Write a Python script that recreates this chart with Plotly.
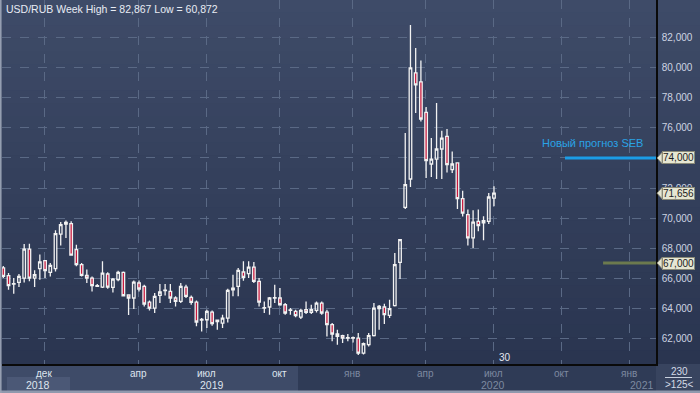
import plotly.graph_objects as go

# ---- weekly USD/RUB candles ----
opens = [66.67, 66.16, 65.60, 65.71, 66.00, 67.93, 66.00, 66.62, 67.16, 66.38,
         66.62, 68.93, 69.60, 69.62, 67.89, 66.89, 66.18, 66.00, 65.44, 65.40,
         66.27, 65.38, 65.89, 66.38, 64.87, 64.67, 65.67, 65.44, 64.40, 64.00,
         64.84, 65.16, 65.11, 64.67, 64.44, 65.40, 64.71, 64.40, 63.20, 63.22,
         63.73, 63.10, 63.00, 63.33, 65.22, 65.44, 66.40, 66.29, 66.73, 65.78,
         64.00, 64.07, 64.67, 64.67, 64.22, 63.87, 63.78, 63.40, 63.89, 63.71,
         63.84, 64.33, 63.73, 62.89, 62.27, 62.16, 62.00, 62.02, 62.00, 61.00,
         61.56, 62.16, 63.96, 64.07, 63.51, 64.16, 67.04, 70.71, 72.60, 79.67,
         79.07, 77.04, 73.60, 73.93, 74.60, 75.44, 73.22, 73.67, 71.29, 70.22,
         68.67, 69.78, 69.67, 69.78, 71.33]
highs = [66.80, 66.33, 66.00, 66.27, 68.27, 68.29, 66.51, 67.56, 67.20, 67.00,
         69.18, 69.73, 69.84, 69.78, 68.22, 67.00, 66.56, 66.11, 65.60, 67.11,
         66.38, 66.00, 66.49, 66.44, 64.90, 65.84, 65.84, 65.56, 64.51, 65.00,
         65.60, 65.60, 65.60, 64.78, 65.67, 65.56, 64.84, 64.51, 63.33, 63.89,
         63.84, 63.22, 63.56, 65.29, 66.22, 66.67, 67.11, 67.11, 67.07, 66.00,
         64.44, 64.73, 65.56, 65.33, 64.33, 64.00, 63.89, 63.96, 64.44, 64.22,
         64.44, 64.44, 63.89, 63.00, 62.56, 62.22, 62.27, 62.10, 62.33, 61.71,
         62.33, 64.33, 64.20, 64.29, 64.56, 67.67, 68.60, 75.67, 82.867, 81.33,
         80.49, 77.40, 75.33, 77.67, 75.82, 75.93, 74.44, 73.70, 71.82, 70.56,
         70.51, 70.56, 70.11, 71.67, 72.11]
lows = [66.00, 65.22, 64.96, 65.40, 65.71, 65.78, 65.40, 65.89, 66.00, 66.11,
        66.44, 68.16, 68.67, 67.50, 66.78, 66.11, 65.67, 65.11, 65.40, 65.33,
        65.29, 65.04, 65.78, 64.82, 63.53, 63.93, 65.11, 64.11, 63.84, 63.67,
        64.33, 64.84, 64.33, 64.11, 64.33, 64.67, 64.22, 62.78, 62.44, 62.67,
        62.82, 62.56, 62.67, 63.04, 64.78, 64.78, 65.82, 66.00, 65.67, 64.11,
        63.67, 63.56, 64.33, 64.16, 63.56, 63.56, 63.38, 63.27, 63.60, 63.60,
        63.71, 63.56, 62.11, 61.78, 61.56, 61.67, 61.78, 61.70, 60.872, 60.90,
        61.44, 62.11, 62.56, 62.93, 63.33, 64.11, 65.93, 70.60, 72.07, 77.00,
        76.44, 72.67, 72.73, 72.60, 72.60, 73.04, 73.00, 70.60, 70.10, 68.16,
        68.00, 69.11, 68.51, 69.60, 70.78]
closes = [66.11, 65.49, 65.62, 66.11, 67.93, 66.00, 66.22, 67.07, 66.49, 66.84,
          68.96, 69.56, 69.70, 67.53, 66.89, 66.18, 66.00, 65.49, 65.49, 66.33,
          65.40, 65.93, 66.38, 64.82, 64.67, 65.73, 65.27, 64.27, 64.00, 64.78,
          65.07, 65.20, 64.67, 64.44, 65.44, 64.78, 64.38, 63.07, 63.25, 63.78,
          62.96, 63.20, 63.33, 65.18, 65.33, 66.51, 66.04, 66.73, 65.78, 64.40,
          64.02, 64.67, 64.70, 64.22, 63.67, 63.84, 63.49, 63.84, 63.71, 63.89,
          64.33, 63.67, 62.89, 62.27, 62.11, 62.00, 62.02, 62.00, 61.00, 61.62,
          62.16, 64.00, 64.11, 63.56, 63.96, 66.89, 68.56, 72.22, 80.00, 78.87,
          76.60, 73.82, 73.93, 74.60, 75.33, 73.56, 73.60, 71.29, 70.33, 68.67,
          69.73, 69.49, 69.82, 71.40, 71.656]
bars = list(range(len(opens)))

# axis ticks
y_ticks = [62, 64, 66, 68, 70, 72, 74, 76, 78, 80, 82]
y_tick_text = ["62,000", "64,000", "66,000", "68,000", "70,000", "72,000",
               "74,000", "76,000", "78,000", "80,000", "82,000"]
month_pos = [7.85, 25.86, 38.97, 52.87, 66.86, 80.92, 93.87, 107.03, 119.92]
month_labels = ["дек", "апр", "июл", "окт", "янв", "апр", "июл", "окт", "янв"]
year_pos = [6.74, 39.9, 93.87, 122.3]
year_labels = ["2018", "2019", "2020", "2021"]

# forecast levels and price labels
forecast_levels = [74.0, 67.0]
forecast_start = [107.6, 114.9]
forecast_colors = ["#1b9ce6", "#6c7a4e"]
price_marks = [74.0, 71.656, 67.0]
price_mark_text = ["74,000", "71,656", "67,000"]

X_RANGE = [-0.25, 125.04]
Y_RANGE = [60.27, 84.53]

W, H = 700, 393
ML, MR, MT, MB = 2, 44, 0, 29
PW, PH = W - ML - MR, H - MT - MB


def px_x(p):
    return (p - ML) / PW


def px_y(p):
    return (H - MB - p) / PH


fig = go.Figure()

fig.add_trace(go.Candlestick(
    x=bars, open=opens, high=highs, low=lows, close=closes,
    increasing=dict(line=dict(color="#f2f2f2", width=1.3), fillcolor="rgba(0,0,0,0)"),
    decreasing=dict(line=dict(color="#f2f2f2", width=1.3), fillcolor="#c8173c"),
    whiskerwidth=0, hoverinfo="skip", showlegend=False,
))

for lvl, x0, col in zip(forecast_levels, forecast_start, forecast_colors):
    fig.add_trace(go.Scatter(x=[x0, X_RANGE[1]], y=[lvl, lvl], mode="lines",
                             line=dict(color=col, width=3), hoverinfo="skip",
                             showlegend=False, cliponaxis=False))

shapes = []
# vertical gradient background
top = (62, 75, 104)
bot = (42, 53, 80)
n = 28
for i in range(n):
    t = i / (n - 1)
    c = tuple(round(top[k] + (bot[k] - top[k]) * t) for k in range(3))
    y0 = px_y(i * (H - MB) / n)
    y1 = px_y((i + 1) * (H - MB) / n)
    shapes.append(dict(type="rect", xref="paper", yref="paper",
                       x0=px_x(0), x1=px_x(W), y0=y1, y1=y0 + 0.002,
                       fillcolor="rgb(%d,%d,%d)" % c, line=dict(width=0), layer="below"))
# bottom band
shapes.append(dict(type="rect", xref="paper", yref="paper", x0=px_x(0), x1=px_x(298),
                   y0=px_y(H), y1=px_y(H - MB), fillcolor="#3e4b68", line=dict(width=0), layer="below"))
shapes.append(dict(type="rect", xref="paper", yref="paper", x0=px_x(298), x1=px_x(W - MR),
                   y0=px_y(H), y1=px_y(H - MB), fillcolor="#2f3b56", line=dict(width=0), layer="below"))
shapes.append(dict(type="rect", xref="paper", yref="paper", x0=px_x(W - MR), x1=px_x(W),
                   y0=px_y(H), y1=px_y(H - MB), fillcolor="#38445f", line=dict(width=0), layer="below"))
shapes.append(dict(type="rect", xref="paper", yref="paper", x0=px_x(7), x1=px_x(70),
                   y0=px_y(391), y1=px_y(377), fillcolor="#4b5876", line=dict(width=0), layer="below"))
shapes.append(dict(type="rect", xref="paper", yref="paper", x0=px_x(0), x1=px_x(W),
                   y0=px_y(H), y1=px_y(390.5), fillcolor="#8f99ad", line=dict(width=0), layer="below"))
shapes.append(dict(type="line", xref="paper", yref="paper", x0=px_x(0.8), x1=px_x(0.8),
                   y0=px_y(H), y1=px_y(0), line=dict(color="#9aa3b5", width=1.5), layer="above"))
# divider in bottom-right box
shapes.append(dict(type="line", xref="paper", yref="paper", x0=px_x(665), x1=px_x(692),
                   y0=px_y(377.5), y1=px_y(377.5), line=dict(color="#c8d0de", width=1), layer="above"))
# pointer triangles for the price boxes
for v in price_marks:
    shapes.append(dict(type="path", xref="paper", yref="y", xsizemode="pixel", ysizemode="pixel",
                       xanchor=1, yanchor=v, path="M 1,0 L 6,-5.5 L 6,5.5 Z",
                       fillcolor="#e6e6d2", line=dict(color="#8a8a78", width=0.8), layer="above"))

annotations = []
annotations.append(dict(text="USD/RUB Week High = 82,867 Low = 60,872", xref="paper", yref="paper",
                        x=px_x(4), y=px_y(9), xanchor="left", yanchor="middle", showarrow=False,
                        font=dict(family="Liberation Sans, Arial", size=10.5, color="#e8ecf4")))
for p, lab in zip(month_pos, month_labels):
    col = "#dfe5ee" if p < 56 else "#7d89a0"
    annotations.append(dict(text=lab, xref="x", yref="paper", x=p, y=px_y(373.5), xanchor="center",
                            yanchor="middle", showarrow=False,
                            font=dict(family="Liberation Sans, Arial", size=10, color=col)))
for p, lab in zip(year_pos, year_labels):
    col = "#dfe5ee" if p < 56 else "#7d89a0"
    annotations.append(dict(text=lab, xref="x", yref="paper", x=p, y=px_y(384.5), xanchor="center",
                            yanchor="middle", showarrow=False,
                            font=dict(family="Liberation Sans, Arial", size=10.5, color=col)))
for v, t in zip(price_marks, price_mark_text):
    annotations.append(dict(text=t, xref="paper", yref="y", x=1, y=v, xanchor="left", yanchor="middle",
                            xshift=6, showarrow=False, bgcolor="#e6e6d2", bordercolor="#8a8a78",
                            borderwidth=1, borderpad=0,
                            font=dict(family="Liberation Sans, Arial", size=10, color="#1c1c1c")))
annotations.append(dict(text="Новый прогноз SEB", xref="x", yref="y", x=122.9, y=forecast_levels[0],
                        xanchor="right", yanchor="middle", yshift=15, showarrow=False,
                        font=dict(family="Liberation Sans, Arial", size=11, color="#2aa3e6")))
annotations.append(dict(text="30", xref="x", yref="paper", x=bars[-1], y=px_y(357.5), xanchor="left",
                        yanchor="middle", xshift=3, showarrow=False,
                        font=dict(family="Liberation Sans, Arial", size=10, color="#e4e8f0")))
annotations.append(dict(text="230", xref="paper", yref="paper", x=px_x(679), y=px_y(371),
                        xanchor="center", yanchor="middle", showarrow=False,
                        font=dict(family="Liberation Sans, Arial", size=10, color="#d4dae6")))
annotations.append(dict(text="&gt;125&lt;", xref="paper", yref="paper", x=px_x(679), y=px_y(384),
                        xanchor="center", yanchor="middle", showarrow=False,
                        font=dict(family="Liberation Sans, Arial", size=10, color="#d4dae6")))

fig.update_layout(
    width=W, height=H, margin=dict(l=ML, r=MR, t=MT, b=MB, pad=0),
    paper_bgcolor="#344060", plot_bgcolor="rgba(0,0,0,0)",
    shapes=shapes, annotations=annotations, showlegend=False,
    xaxis=dict(range=X_RANGE, rangeslider=dict(visible=False), tickvals=month_pos,
               showticklabels=False, ticks="", showgrid=True, gridcolor="#5a6985",
               griddash="dash", gridwidth=1, zeroline=False, showline=True,
               linecolor="#0a0a0a", linewidth=1.5, fixedrange=True),
    yaxis=dict(range=Y_RANGE, side="right", tickvals=y_ticks, ticktext=y_tick_text,
               ticks="", ticklabelstandoff=2, showgrid=True, gridcolor="#5a6985",
               griddash="dash", gridwidth=1, zeroline=False, showline=True,
               linecolor="#0a0a0a", linewidth=1.5,
               tickfont=dict(family="Liberation Sans, Arial", size=10, color="#cdd4e2"),
               fixedrange=True),
)

fig.write_html("out.html", config={"displayModeBar": False},
               post_script="document.body.style.margin='0';document.body.style.overflow='hidden';")
